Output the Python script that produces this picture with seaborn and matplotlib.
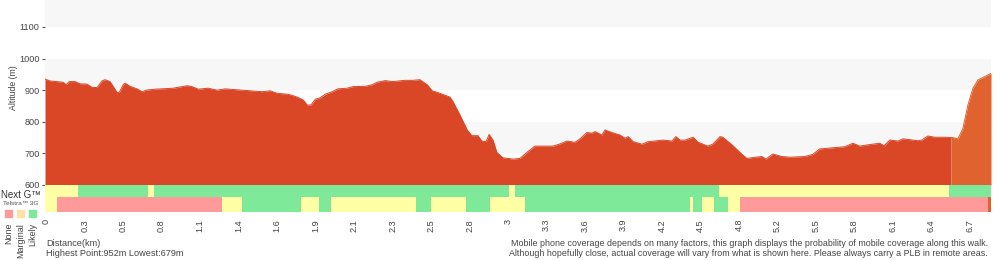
import matplotlib
matplotlib.use("Agg")
import numpy as np
import pandas as pd
import matplotlib.pyplot as plt
from matplotlib.patches import Rectangle
import seaborn as sns

# elevation profile: position along the walk (in tick steps) and altitude (m)
profile_pos = [
    -0.03, 0.10, 0.44, 0.52, 0.60, 0.75, 0.88, 1.06, 1.19, 1.32, 1.45, 1.53, 1.66, 1.77,
    1.84, 1.90, 2.00, 2.05, 2.18, 2.36, 2.49, 2.60, 2.83, 3.30, 3.66, 3.79, 3.95, 4.21,
    4.44, 4.65, 4.96, 5.30, 5.61, 5.82, 6.00, 6.29, 6.52, 6.68, 6.78, 6.88, 6.99, 7.12,
    7.25, 7.43, 7.58, 7.82, 7.97, 8.29, 8.47, 8.60, 8.81, 9.01, 9.32, 9.53, 9.71, 9.90,
    10.03, 10.23, 10.49, 10.57, 10.75, 10.94, 11.06, 11.22, 11.32, 11.43, 11.51, 11.61,
    11.71, 11.87, 12.13, 12.31, 12.49, 12.70, 13.17, 13.35, 13.53, 13.74, 13.87, 14.05,
    14.18, 14.26, 14.44, 14.52, 14.70, 14.91, 15.04, 15.12, 15.25, 15.48, 15.64, 16.03,
    16.26, 16.36, 16.47, 16.60, 16.81, 16.94, 17.19, 17.32, 17.51, 17.58, 17.82, 18.08,
    18.21, 18.42, 18.60, 18.70, 18.88, 19.12, 19.32, 19.71, 19.92, 20.10, 20.29, 20.75,
    20.96, 21.14, 21.35, 21.66, 21.77, 21.92, 22.13, 22.26, 22.65, 22.75, 22.91, 23.09,
    23.35, 23.56, 23.69, 23.82, 23.95, 24.08, 24.21, 24.39, 24.55,
]
profile_alt = [
    935, 929, 925, 917, 927, 927, 920, 919, 909, 908, 929, 933, 927, 906,
    893, 893, 917, 922, 912, 904, 895, 900, 903, 906, 914, 911, 903, 906,
    900, 904, 901, 898, 895, 898, 890, 887, 878, 869, 853, 853, 871, 876,
    887, 895, 904, 906, 911, 912, 917, 925, 930, 927, 931, 931, 933, 917,
    898, 890, 878, 864, 822, 774, 756, 756, 739, 737, 760, 742,
    703, 686, 682, 684, 703, 723, 723, 730, 739, 735, 746, 766,
    764, 769, 758, 774, 766, 758, 748, 753, 737, 729, 737, 742,
    739, 753, 742, 742, 751, 735, 723, 729, 753, 751, 727, 697,
    684, 688, 690, 682, 698, 690, 688, 690, 697, 714, 716, 721,
    732, 723, 727, 732, 724, 742, 739, 746, 740, 742, 755, 751,
    751, 750, 746, 779, 853, 906, 932, 943, 953,
]
section_start = 23.51

xtick_labels = [
    "0", "0.3", "0.5", "0.8", "1.1", "1.4", "1.6", "1.9", "2.1", "2.3", "2.5", "2.8", "3",
    "3.3", "3.6", "3.9", "4.2", "4.5", "4.8", "5.2", "5.5", "5.8", "6.1", "6.4", "6.7",
]

# coverage bands: edges along the walk and the level in between
nextg_edges = [-0.03, 0.83, 2.65, 2.81, 12.03, 12.18, 17.48, 23.45, 24.55]
nextg_levels = ["Marginal", "Likely", "Marginal", "Likely", "Marginal", "Likely",
                "Marginal", "Likely"]
g3_edges = [-0.03, 0.29, 4.57, 5.09, 6.62, 7.09, 7.40, 9.61, 10.0, 10.91, 11.53, 12.44,
            16.73, 16.81, 17.04, 17.35, 17.71, 18.03, 24.47, 24.55]
g3_levels = ["Marginal", "None", "Marginal", "Likely", "Marginal", "Likely", "Marginal",
             "Likely", "Marginal", "Likely", "Marginal", "Likely", "Marginal", "Likely",
             "Marginal", "Likely", "Marginal", "None", "Section"]

legend_levels = ["None", "Marginal", "Likely"]

TERRAIN = "#d94727"
SECTION = "#e0632f"
BAND = "#f7f7f7"
TXT = "#444444"
level_colors = {"None": "#ff9a9a", "Marginal": "#ffffa6", "Likely": "#7fe99a",
                "Section": SECTION}
legend_colors = {"None": "#ff9a9a", "Marginal": "#fde2a6", "Likely": "#7fe99a"}

sns.set_theme(style="white")
plt.rcParams["font.family"] = ["Liberation Sans", "DejaVu Sans"]

W, H = 1000, 260
fig = plt.figure(figsize=(W / 100, H / 100), dpi=100)


def fx(px):
    return px / W


def fy(py):
    return 1 - py / H


# ---- altitude profile
ax = fig.add_axes([fx(45), fy(185), 946 / W, 185 / H])
ax.set_xlim(-0.03, 24.55)
ax.set_ylim(600, 1185)
for lo in (700, 900, 1100):
    ax.axhspan(lo, lo + 100 if lo < 1100 else 1185, color=BAND, lw=0, zorder=0)

df = pd.DataFrame({"pos": profile_pos, "alt": profile_alt})
split_alt = np.interp(section_start, df["pos"], df["alt"])
main = pd.concat([df[df["pos"] < section_start],
                  pd.DataFrame({"pos": [section_start], "alt": [split_alt]})])
sect = pd.concat([pd.DataFrame({"pos": [section_start], "alt": [split_alt]}),
                  df[df["pos"] > section_start]])

ax.fill_between(main["pos"], main["alt"], 600, color=TERRAIN, lw=0, zorder=2)
ax.fill_between(sect["pos"], sect["alt"], 600, color=SECTION, lw=0, zorder=2)
sns.lineplot(data=main, x="pos", y="alt", ax=ax, color=TERRAIN, lw=0.7, zorder=3,
             sort=False)
sns.lineplot(data=sect, x="pos", y="alt", ax=ax, color=SECTION, lw=0.7, zorder=3,
             sort=False)

ax.set_xticks([])
ax.set_yticks(range(600, 1101, 100))
ax.tick_params(axis="y", length=2, width=0.8, color="#555555", labelsize=6.6,
               labelcolor=TXT, pad=2, left=True)
ax.set_xlabel("")
ax.set_ylabel("")
for s in ax.spines.values():
    s.set_visible(False)

fig.text(fx(14), fy(88), "Altitude (m)", rotation=90, ha="center", va="center",
         fontsize=6.3, color=TXT)

# ---- coverage rows
axc = fig.add_axes([fx(45), fy(212), 946 / W, 27 / H])
axc.set_xlim(-0.03, 24.55)
axc.set_ylim(0, 27)
rows = [(nextg_edges, nextg_levels, 15, 12), (g3_edges, g3_levels, 0, 15)]
for edges, levels, y0, h in rows:
    left = np.array(edges[:-1])
    width = np.diff(edges)
    axc.barh(y0, width, left=left, height=h, align="edge",
             color=[level_colors[lv] for lv in levels], lw=0)

axc.set_yticks([])
axc.set_xticks(range(len(xtick_labels)))
axc.set_xticklabels(xtick_labels, rotation=90, va="top", ha="center")
axc.tick_params(axis="x", length=0, labelsize=6.6, labelcolor=TXT, pad=5)
for s in axc.spines.values():
    s.set_visible(False)

# ---- legend at the left
fig.text(fx(1), fy(194.5), "Next G\u2122", ha="left", va="center", fontsize=7,
         color="#333333")
fig.text(fx(3), fy(203.5), "Telstra\u2122 3G", ha="left", va="center", fontsize=4.6,
         color="#555555")
for i, lv in enumerate(legend_levels):
    x0 = 4 + i * 12
    fig.patches.append(Rectangle((fx(x0), fy(218)), 9 / W, 9 / H,
                                 transform=fig.transFigure,
                                 facecolor=legend_colors[lv], edgecolor="white", lw=0.5))
    fig.text(fx(x0 + 4.5), fy(223), lv, rotation=90, ha="center", va="top",
             fontsize=6.5, color=TXT)

# ---- footer notes
fig.text(fx(46), fy(244), "Distance(km)", ha="left", va="center", fontsize=6.6, color=TXT)
fig.text(fx(46), fy(254), "Highest Point:952m Lowest:679m", ha="left", va="center",
         fontsize=6.6, color=TXT)
fig.text(fx(988), fy(243),
         "Mobile phone coverage depends on many factors, this graph displays the "
         "probability of mobile coverage along this walk.",
         ha="right", va="center", fontsize=6.4, color=TXT)
fig.text(fx(988), fy(253),
         "Although hopefully close, actual coverage will vary from what is shown here. "
         "Please always carry a PLB in remote areas.",
         ha="right", va="center", fontsize=6.4, color=TXT)

fig.savefig("out.png", dpi=100, facecolor="white")
